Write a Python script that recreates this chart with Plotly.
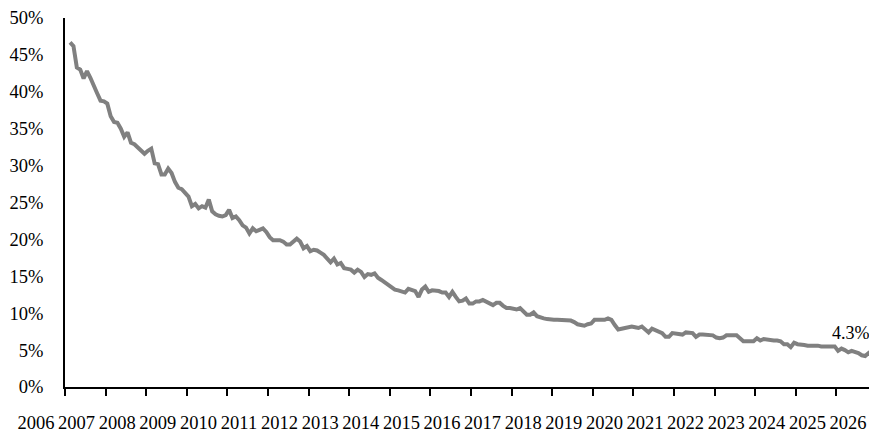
import plotly.graph_objects as go

# Monthly share (%) starting Feb 2006
values_2006 = [46.7, 46.2, 43.3, 43.0, 41.8, 42.8, 41.9, 40.7, 39.8, 38.8, 38.7, 38.4]
values_2007 = [36.7, 35.9, 35.8, 35.0, 33.9, 34.5, 33.1, 32.9, 32.5, 32.0, 31.6, 32.0]
values_2008 = [32.3, 30.3, 30.2, 28.8, 28.8, 29.6, 29.0, 27.8, 27.0, 26.8, 26.3, 25.8]
values_2009 = [24.5, 24.8, 24.2, 24.5, 24.3, 25.4, 23.8, 23.4, 23.2, 23.1, 23.3, 24.0]
values_2010 = [22.9, 23.1, 22.6, 21.9, 21.6, 20.8, 21.5, 21.1, 21.3, 21.5, 21.0, 20.3]
values_2011 = [19.9, 19.9, 19.9, 19.7, 19.3, 19.3, 19.8, 20.1, 19.7, 18.8, 19.1, 18.4]
values_2012 = [18.6, 18.5, 18.2, 17.9, 17.4, 16.9, 17.4, 16.6, 16.8, 16.1, 16.0, 15.9]
values_2013 = [15.5, 15.9, 15.6, 14.9, 15.3, 15.2, 15.4, 14.8, 14.5, 14.2, 13.9, 13.6]
values_2014 = [13.2, 13.1, 13.0, 12.8, 13.3, 13.2, 13.0, 12.2, 13.2, 13.6, 12.9, 13.1]
values_2015 = [13.1, 13.0, 12.8, 12.8, 12.2, 12.9, 12.2, 11.6, 11.7, 12.0, 11.3, 11.3]
values_2016 = [11.6, 11.6, 11.8, 11.6, 11.3, 11.1, 11.4, 11.4, 11.0, 10.7, 10.7, 10.6]
values_2017 = [10.5, 10.7, 10.2, 9.8, 9.8, 10.1, 9.6, 9.4, 9.3, 9.2, 9.1, 9.1]
values_2018 = [9.1, 9.1, 9.1, 9.1, 9.0, 8.8, 8.5, 8.4, 8.3, 8.5, 8.6, 9.1]
values_2019 = [9.1, 9.1, 9.1, 9.3, 9.1, 8.4, 7.8, 7.9, 8.0, 8.0, 8.2, 8.1]
values_2020 = [8.0, 8.2, 7.8, 7.4, 7.9, 7.7, 7.6, 7.3, 6.8, 6.8, 7.3, 7.2]
values_2021 = [7.1, 7.1, 7.4, 7.4, 7.3, 6.8, 7.1, 7.1, 7.1, 7.1, 7.0, 6.7]
values_2022 = [6.6, 6.7, 7.0, 7.0, 7.0, 7.0, 6.6, 6.2, 6.2, 6.2, 6.2, 6.6]
values_2023 = [6.3, 6.5, 6.4, 6.3, 6.3, 6.3, 6.2, 5.8, 5.8, 5.4, 6.0, 5.8]
values_2024 = [5.8, 5.7, 5.6, 5.6, 5.7, 5.6, 5.5, 5.5, 5.5, 5.5, 5.5, 4.9]
values_2025 = [5.2, 5.0, 4.7, 4.9, 4.8, 4.6, 4.3, 4.2, 4.6, 4.2, 4.3]

year_labels = [str(y) for y in range(2006, 2027)]
y_ticks = [0, 5, 10, 15, 20, 25, 30, 35, 40, 45, 50]
y_labels = [f"{v}%" for v in y_ticks]
last_label = "4.3%"

series = (values_2006 + values_2007 + values_2008 + values_2009 + values_2010
          + values_2011 + values_2012 + values_2013 + values_2014 + values_2015
          + values_2016 + values_2017 + values_2018 + values_2019 + values_2020
          + values_2021 + values_2022 + values_2023 + values_2024 + values_2025)

start_year = 2006
start_month_offset = 1  # February
x = [start_year + (start_month_offset + i + 0.5) / 12 for i in range(len(series))]

FONT = "Liberation Serif"

fig = go.Figure()
fig.add_trace(go.Scatter(
    x=x, y=series, mode="lines",
    line=dict(color="#808080", width=4),
    hoverinfo="skip", showlegend=False,
))

fig.add_annotation(
    x=x[-1], y=series[-1], text=last_label, showarrow=False,
    xanchor="right", yanchor="middle", xshift=-3, yshift=22,
    font=dict(family=FONT, size=18, color="black"),
)

# the page body has an 8px margin, so the figure is sized to fit the window
fig.update_layout(
    width=869, height=424,
    margin=dict(l=57, r=0, t=10, b=45, autoexpand=False),
    paper_bgcolor="white", plot_bgcolor="white",
    font=dict(family=FONT, size=18, color="black"),
    showlegend=False,
)

fig.update_xaxes(
    range=[2006, 2026],
    tickvals=list(range(2006, 2027)),
    ticktext=year_labels,
    tickangle=0,
    automargin=False,
    ticks="outside", ticklen=7, tickwidth=2, tickcolor="black",
    ticklabelshift=-29, ticklabelstandoff=11,
    showline=True, linecolor="black", linewidth=2,
    showgrid=False, zeroline=False,
    tickfont=dict(family=FONT, size=18.5, color="black"),
)

fig.update_yaxes(
    range=[0, 50],
    tickvals=y_ticks,
    ticktext=y_labels,
    ticks="",
    automargin=False,
    ticklabelstandoff=16,
    showline=True, linecolor="black", linewidth=2,
    showgrid=False, zeroline=False,
    tickfont=dict(family=FONT, size=18.5, color="black"),
)

fig.write_html("out.html")
